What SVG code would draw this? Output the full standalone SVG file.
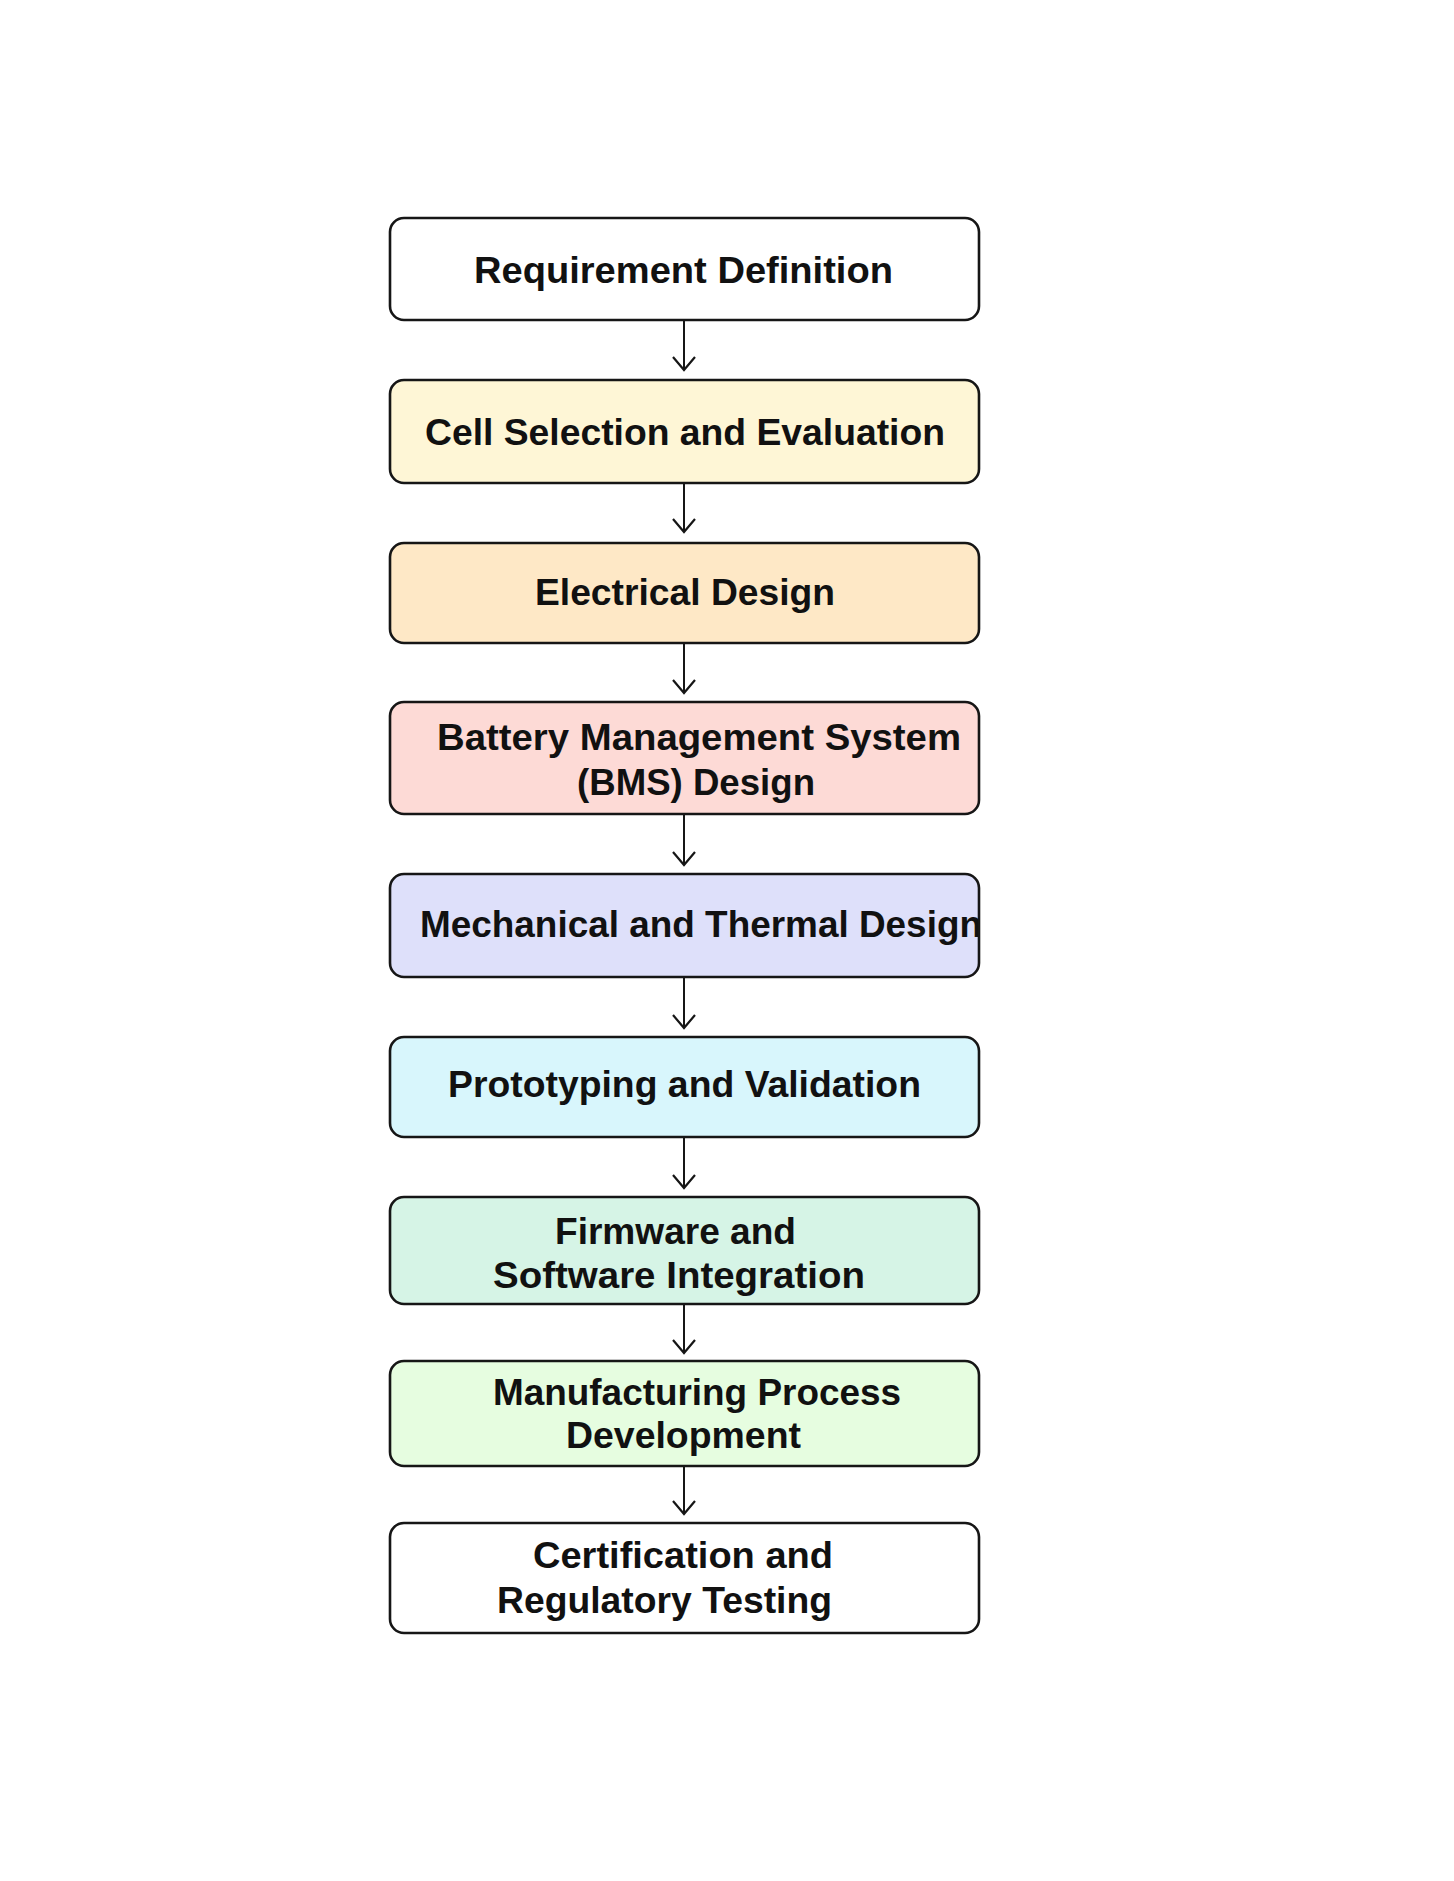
<svg xmlns="http://www.w3.org/2000/svg" width="1454" height="1881" viewBox="0 0 1454 1881">
<style>
.box{stroke:#161616;stroke-width:2.6}
.t{font-family:"Liberation Sans",Arial,sans-serif;font-weight:bold;font-size:37px;fill:#111}
.c{stroke:#161616;stroke-width:2;fill:none}
</style>
<defs>
<marker id="arr" markerUnits="userSpaceOnUse" markerWidth="30" markerHeight="30" refX="0" refY="0" orient="auto" viewBox="-15 -15 30 30" overflow="visible">
<path d="M-13,-11 L0,0 L-13,11" fill="none" stroke="#161616" stroke-width="2.2"/>
</marker>
<clipPath id="clip5"><rect x="390" y="874" width="589" height="103" rx="14"/></clipPath>
</defs>
<rect width="1454" height="1881" fill="#fff"/>
<g id="connectors">
<line class="c" x1="684" y1="321" x2="684" y2="370" marker-end="url(#arr)"/>
<line class="c" x1="684" y1="484" x2="684" y2="532" marker-end="url(#arr)"/>
<line class="c" x1="684" y1="644" x2="684" y2="693" marker-end="url(#arr)"/>
<line class="c" x1="684" y1="815" x2="684" y2="865" marker-end="url(#arr)"/>
<line class="c" x1="684" y1="978" x2="684" y2="1028" marker-end="url(#arr)"/>
<line class="c" x1="684" y1="1138" x2="684" y2="1188" marker-end="url(#arr)"/>
<line class="c" x1="684" y1="1305" x2="684" y2="1353" marker-end="url(#arr)"/>
<line class="c" x1="684" y1="1467" x2="684" y2="1514" marker-end="url(#arr)"/>
</g>
<g id="n1">
<rect class="box" x="390" y="218" width="589" height="102" rx="14" fill="#ffffff"/>
<text class="t" x="474" y="283" textLength="419" lengthAdjust="spacingAndGlyphs">Requirement Definition</text>
</g>
<g id="n2">
<rect class="box" x="390" y="380" width="589" height="103" rx="14" fill="#FEF6D6"/>
<text class="t" x="425" y="445" textLength="520" lengthAdjust="spacingAndGlyphs">Cell Selection and Evaluation</text>
</g>
<g id="n3">
<rect class="box" x="390" y="543" width="589" height="100" rx="14" fill="#FEE8C6"/>
<text class="t" x="535" y="605" textLength="300" lengthAdjust="spacingAndGlyphs">Electrical Design</text>
</g>
<g id="n4">
<rect class="box" x="390" y="702" width="589" height="112" rx="14" fill="#FDDAD6"/>
<text class="t" x="437" y="750" textLength="524" lengthAdjust="spacingAndGlyphs">Battery Management System</text>
<text class="t" x="577" y="795" textLength="238" lengthAdjust="spacingAndGlyphs">(BMS) Design</text>
</g>
<g id="n5">
<rect x="390" y="874" width="589" height="103" rx="14" fill="#DEE0FA"/>
<text class="t" x="420" y="937" textLength="562" lengthAdjust="spacingAndGlyphs" clip-path="url(#clip5)">Mechanical and Thermal Design</text>
<rect class="box" x="390" y="874" width="589" height="103" rx="14" fill="none"/>
</g>
<g id="n6">
<rect class="box" x="390" y="1037" width="589" height="100" rx="14" fill="#D8F6FC"/>
<text class="t" x="448" y="1097" textLength="473" lengthAdjust="spacingAndGlyphs">Prototyping and Validation</text>
</g>
<g id="n7">
<rect class="box" x="390" y="1197" width="589" height="107" rx="14" fill="#D6F4E6"/>
<text class="t" x="555" y="1244" textLength="241" lengthAdjust="spacingAndGlyphs">Firmware and</text>
<text class="t" x="493" y="1288" textLength="372" lengthAdjust="spacingAndGlyphs">Software Integration</text>
</g>
<g id="n8">
<rect class="box" x="390" y="1361" width="589" height="105" rx="14" fill="#E6FDE0"/>
<text class="t" x="493" y="1405" textLength="408" lengthAdjust="spacingAndGlyphs">Manufacturing Process</text>
<text class="t" x="566" y="1448" textLength="235" lengthAdjust="spacingAndGlyphs">Development</text>
</g>
<g id="n9">
<rect class="box" x="390" y="1523" width="589" height="110" rx="14" fill="#ffffff"/>
<text class="t" x="533" y="1568" textLength="300" lengthAdjust="spacingAndGlyphs">Certification and</text>
<text class="t" x="497" y="1613" textLength="335" lengthAdjust="spacingAndGlyphs">Regulatory Testing</text>
</g>
</svg>
